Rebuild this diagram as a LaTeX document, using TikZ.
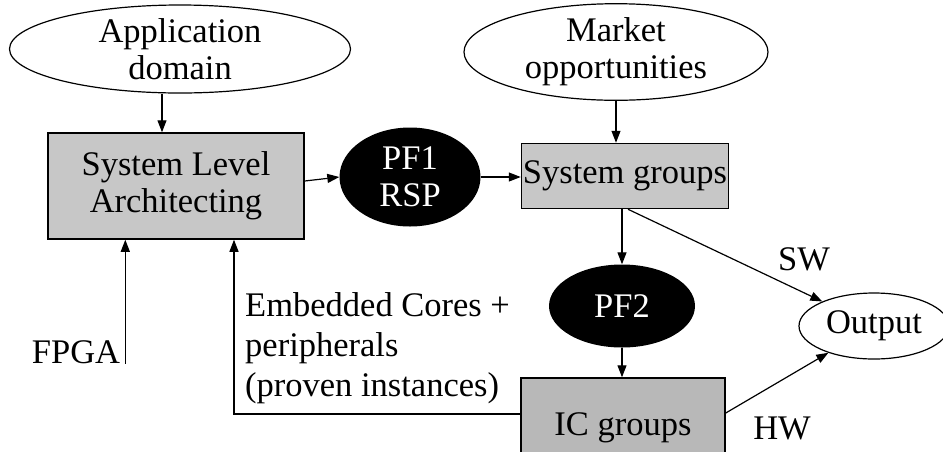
\documentclass[tikz,border=0pt]{standalone}
\usepackage{fontspec}
\setmainfont{Liberation Serif}
\usetikzlibrary{shapes.geometric,arrows.meta}
\begin{document}
\begin{tikzpicture}[x=1pt,y=-1pt,
  every node/.style={font=\fontsize{34.5}{37}\selectfont, inner sep=0pt},
  oval/.style={draw, ellipse, line width=1.2pt, align=center},
  blob/.style={ellipse, fill=black, text=white, align=center},
  shadebox/.style={draw, line width=1.5pt, fill=black!22, align=center},
  flow/.style={line width=1.2pt, -{Triangle[length=12pt,width=9pt]}},
  lead/.style={line width=1.2pt}]
\useasboundingbox (0,0) rectangle (943,451);
\clip (0,0) rectangle (943,451);

% sources
\node[oval, minimum width=341pt, minimum height=88pt] (app) at (180,49) {Application\\domain};
\node[oval, minimum width=304pt, minimum height=85pt] (mkt) at (616,52) {Market\\opportunities};

% main flow
\node[shadebox, minimum width=256pt, minimum height=106pt] (sla) at (176,186) {System Level\\Architecting};
\node[blob, minimum width=141pt, minimum height=99pt] (pf1) at (410,177) {PF1\\RSP};
\node[shadebox, minimum width=207pt, minimum height=65pt] (sys) at (625,176) {System groups};
\node[blob, minimum width=146pt, minimum height=83pt] (pf2) at (622,306) {PF2};
\node[shadebox, fill=black!28, minimum width=204pt, minimum height=100pt] (ic) at (623,428) {IC groups};
\node[oval, minimum width=150pt, minimum height=66pt] (out) at (874,326) {Output};

% free labels
\node (fpga) at (76,352) {FPGA};
\node[align=left, anchor=west, font=\fontsize{34.5}{40}\selectfont] (emb) at (245,348)
  {Embedded Cores +\\peripherals\\(proven instances)};
\node (sw) at (804,259) {SW};
\node (hw) at (782,428) {HW};

% connectors
\draw[flow] ([xshift=-18pt]app.south) -- ([xshift=-14pt]sla.north);
\draw[flow] ([yshift=5pt]sla.east) -- (pf1.west);
\draw[flow] (pf1.east) -- (pf1.east -| sys.west);
\draw[flow] (mkt.south) -- (mkt.south |- sys.north);
\draw[flow] (sys.south -| pf2.north) -- (pf2.north);
\draw[flow] (pf2.south) -- (pf2.south |- ic.north);
\draw[flow] ([xshift=3pt]sys.south) -- (out);
\draw[flow] ([yshift=15pt]ic.east) -- (out);
\draw[flow] ([yshift=14pt]ic.west) -| ([xshift=58pt]sla.south);
\draw[flow] ([xshift=5pt]fpga.south east) -- ([xshift=5pt]fpga.south east |- sla.south);
\end{tikzpicture}
\end{document}
